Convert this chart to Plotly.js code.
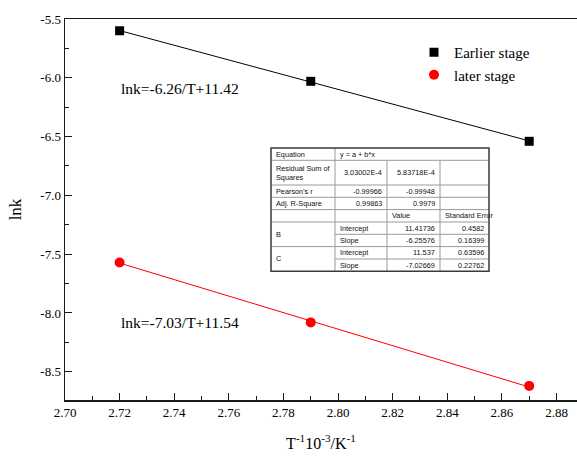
<!DOCTYPE html>
<html>
<head>
<meta charset="utf-8">
<script src="https://cdn.plot.ly/plotly-3.0.1.min.js"></script>
<style>
  html, body { margin: 0; padding: 0; background: #fff; }
  #chart { width: 577px; height: 456px; }
</style>
</head>
<body>
<div id="chart"></div>
<script>
// Arrhenius-type plot: ln k against reciprocal temperature for two stages
const invT = [2.72, 2.79, 2.87];
const lnkEarlier = [-5.60, -6.03, -6.54];
const lnkLater = [-7.57, -8.08, -8.62];

const seriesNames = ['Earlier stage', 'later stage'];
const fitGroups = ['B', 'C'];

// Linear fit results (y = a + b*x)
const fitIntercept = [11.41736, 11.537];
const fitSlope = [-6.25576, -7.02669];
const interceptErr = [0.4582, 0.63596];
const slopeErr = [0.16399, 0.22762];
const residualSS = ['3.03002E-4', '5.83718E-4'];
const pearsonR = [-0.99966, -0.99948];
const adjR2 = [0.99863, 0.9979];

const xTickVals = [2.70, 2.72, 2.74, 2.76, 2.78, 2.80, 2.82, 2.84, 2.86, 2.88];
const yTickVals = [-5.5, -6.0, -6.5, -7.0, -7.5, -8.0, -8.5];

const W = 577, H = 456;
const M = { l: 65, r: 0, t: 19, b: 56 };
const PW = W - M.l - M.r, PH = H - M.t - M.b;
const px = x => (x - M.l) / PW;          // pixel -> paper x
const py = y => (H - M.b - y) / PH;      // pixel -> paper y

const serif = 'Liberation Serif, Times New Roman, serif';
const sans = 'Liberation Sans, Arial, sans-serif';

// Regression lines over the measured range
const xFit = [invT[0], invT[invT.length - 1]];
const fitLine = i => xFit.map(x => fitIntercept[i] + fitSlope[i] * x);

const traces = [
  { x: xFit, y: fitLine(0), mode: 'lines', line: { color: '#000', width: 1 }, showlegend: false, hoverinfo: 'skip' },
  { x: xFit, y: fitLine(1), mode: 'lines', line: { color: '#ff0000', width: 1 }, showlegend: false, hoverinfo: 'skip' },
  { x: invT, y: lnkEarlier, name: seriesNames[0], mode: 'markers',
    marker: { symbol: 'square', size: 9, color: '#000' } },
  { x: invT, y: lnkLater, name: seriesNames[1], mode: 'markers',
    marker: { symbol: 'circle', size: 10, color: '#ff0000' } }
];

const fmtLine = i => 'lnk=' + fitSlope[i].toFixed(2) + '/T+' + fitIntercept[i].toFixed(2);

const annotations = [
  { xref: 'paper', yref: 'paper', x: px(119), y: py(88), xanchor: 'left', yanchor: 'middle',
    text: fmtLine(0), showarrow: false, font: { family: serif, size: 15.5, color: '#000' } },
  { xref: 'paper', yref: 'paper', x: px(119), y: py(322), xanchor: 'left', yanchor: 'middle',
    text: fmtLine(1), showarrow: false, font: { family: serif, size: 15.5, color: '#000' } }
];

// ---- Fit statistics table ----
const colX = [271, 335, 387, 440, 489];
const rowY = [148, 160.3, 185, 197.3, 209.6, 222, 234.3, 246.6, 259, 271.3];
const shapes = [];
const inner = { color: '#9a9a9a', width: 1 };
const hline = (x0, x1, y) => shapes.push({ type: 'line', xref: 'paper', yref: 'paper',
  x0: px(x0), x1: px(x1), y0: py(y), y1: py(y), line: inner });
const vline = (x, y0, y1) => shapes.push({ type: 'line', xref: 'paper', yref: 'paper',
  x0: px(x), x1: px(x), y0: py(y0), y1: py(y1), line: inner });

shapes.push({ type: 'rect', xref: 'paper', yref: 'paper',
  x0: px(colX[0]), x1: px(colX[4]), y0: py(rowY[0]), y1: py(rowY[9]),
  fillcolor: '#fff', line: { width: 0 }, layer: 'above' });
// horizontal rules
for (let r = 1; r < 9; r++) {
  if (r === 6 || r === 8) hline(colX[1], colX[4], rowY[r]);
  else hline(colX[0], colX[4], rowY[r]);
}
// vertical rules
vline(colX[1], rowY[0], rowY[9]);
vline(colX[2], rowY[1], rowY[9]);
vline(colX[3], rowY[1], rowY[9]);
// outer frame
shapes.push({ type: 'rect', xref: 'paper', yref: 'paper',
  x0: px(colX[0]), x1: px(colX[4]), y0: py(rowY[0]), y1: py(rowY[9]),
  line: { color: '#3a3a3a', width: 1.5 } });

const cell = (text, c, r0, r1, align) => {
  const yc = (rowY[r0] + rowY[r1]) / 2;
  const left = align !== 'right';
  annotations.push({ xref: 'paper', yref: 'paper',
    x: px(left ? colX[c] + 3 : colX[c + 1] - 3), y: py(yc),
    xanchor: left ? 'left' : 'right', yanchor: 'middle', align: 'left',
    text: text, showarrow: false, font: { family: sans, size: 7.3, color: '#111' } });
};

cell('Equation', 0, 0, 1);
cell('y = a + b*x', 1, 0, 1);
cell('Residual Sum of<br>Squares', 0, 1, 2);
cell(residualSS[0], 1, 1, 2, 'right');
cell(residualSS[1], 2, 1, 2, 'right');
cell("Pearson's r", 0, 2, 3);
cell(String(pearsonR[0]), 1, 2, 3, 'right');
cell(String(pearsonR[1]), 2, 2, 3, 'right');
cell('Adj. R-Square', 0, 3, 4);
cell(String(adjR2[0]), 1, 3, 4, 'right');
cell(String(adjR2[1]), 2, 3, 4, 'right');
cell('Value', 2, 4, 5);
cell('Standard Error', 3, 4, 5);
for (let g = 0; g < 2; g++) {
  const r = 5 + g * 2;
  cell(fitGroups[g], 0, r, r + 2);
  cell('Intercept', 1, r, r + 1);
  cell(String(fitIntercept[g]), 2, r, r + 1, 'right');
  cell(String(interceptErr[g]), 3, r, r + 1, 'right');
  cell('Slope', 1, r + 1, r + 2);
  cell(String(fitSlope[g]), 2, r + 1, r + 2, 'right');
  cell(String(slopeErr[g]), 3, r + 1, r + 2, 'right');
}

const axisCommon = {
  showgrid: false, zeroline: false,
  showline: true, linecolor: '#1a1a1a', linewidth: 1.5,
  ticks: 'inside', ticklen: 7, tickwidth: 1, tickcolor: '#1a1a1a',
  tickfont: { family: serif, size: 13, color: '#000' }
};

const layout = {
  width: W, height: H,
  margin: M,
  paper_bgcolor: '#fff', plot_bgcolor: '#fff',
  showlegend: true,
  legend: {
    x: px(414), y: py(36), xanchor: 'left', yanchor: 'top',
    bgcolor: 'rgba(0,0,0,0)', borderwidth: 0,
    font: { family: serif, size: 15, color: '#000' },
    tracegroupgap: 0
  },
  xaxis: Object.assign({}, axisCommon, {
    range: [2.70, 2.8875], mirror: true,
    tickvals: xTickVals, ticktext: xTickVals.map(v => v.toFixed(2)),
    minor: { dtick: 0.01, tick0: 2.70, ticks: 'inside', ticklen: 4, tickcolor: '#1a1a1a', tickwidth: 1 },
    title: { text: 'T<sup>-1</sup>10<sup>-3</sup>/K<sup>-1</sup>', standoff: 18,
      font: { family: serif, size: 16, color: '#000' } }
  }),
  yaxis: Object.assign({}, axisCommon, {
    range: [-8.74, -5.5],
    tickvals: yTickVals, ticktext: yTickVals.map(v => v.toFixed(1)),
    minor: { dtick: 0.25, tick0: -5.5, ticks: 'inside', ticklen: 4, tickcolor: '#1a1a1a', tickwidth: 1 },
    title: { text: 'lnk', standoff: 14, font: { family: serif, size: 17, color: '#000' } }
  }),
  annotations: annotations,
  shapes: shapes
};

Plotly.newPlot('chart', traces, layout, { displayModeBar: false, staticPlot: true });
</script>
</body>
</html>
